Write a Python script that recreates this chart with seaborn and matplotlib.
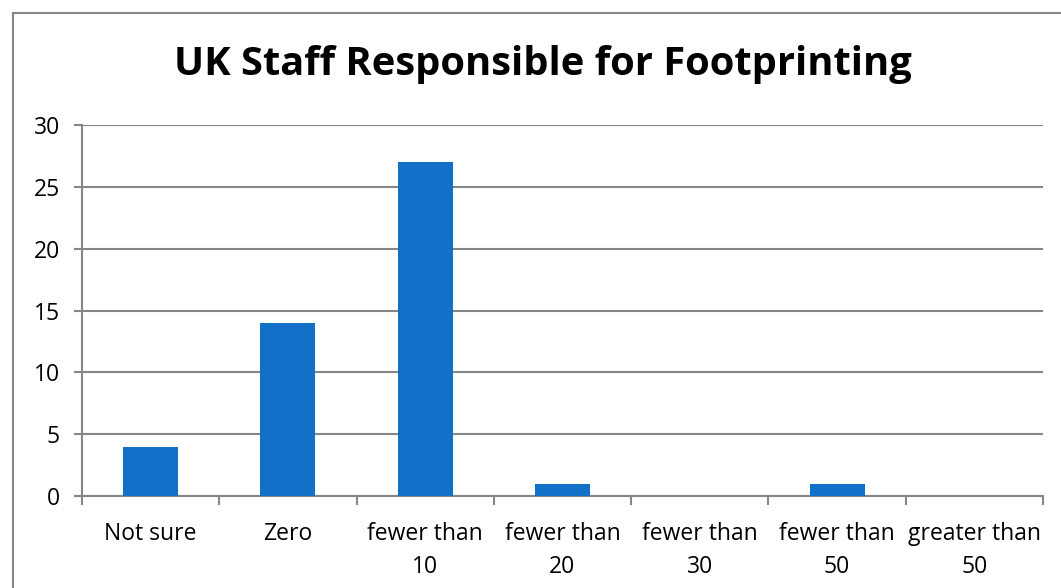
import pandas as pd
import matplotlib.pyplot as plt
from matplotlib.lines import Line2D
import seaborn as sns

categories = ['Not sure', 'Zero', 'fewer than\n10', 'fewer than\n20', 'fewer than\n30',
              'fewer than\n50', 'greater than\n50']
counts = [4, 14, 27, 1, 0, 1, 0]
y_ticks = [0, 5, 10, 15, 20, 25, 30]

df = pd.DataFrame({'category': categories, 'count': counts})

sns.set_style('white')
plt.rcParams['font.family'] = ['Open Sans', 'DejaVu Sans']
plt.rcParams['text.color'] = 'black'
plt.rcParams['xtick.color'] = 'black'
plt.rcParams['ytick.color'] = 'black'

W, H = 1061, 588
fig = plt.figure(figsize=(W / 100, H / 100), dpi=100)
ax = fig.add_axes([82 / W, 1 - 496 / H, (1043 - 82) / W, (496 - 125) / H])

grey = '#868686'
sns.barplot(data=df, x='category', y='count', color='#1270C8', width=0.4,
            saturation=1, linewidth=0, ax=ax, zorder=3)

ax.set_ylim(0, 30)
ax.set_xlim(-0.5, len(categories) - 0.5)
ax.set_yticks(y_ticks)
ax.set_yticklabels([str(t) for t in y_ticks], fontsize=16.5)
ax.yaxis.grid(True, color=grey, linewidth=1.5, zorder=0)
ax.set_axisbelow(True)

# category boundary ticks on x axis
ax.set_xticks([i + 0.5 for i in range(-1, len(categories))], minor=False)
ax.set_xticklabels([])
ax.set_xticks(range(len(categories)), minor=True)
ax.set_xticklabels(categories, minor=True, fontsize=16.5, linespacing=1.5)
ax.tick_params(axis='x', which='major', length=6.5, width=1.5, color=grey, direction='out', bottom=True)
ax.tick_params(axis='x', which='minor', length=0, pad=18.5)
ax.tick_params(axis='y', length=6, width=1.5, color=grey, direction='out', left=True, pad=10)

for s in ['top', 'right']:
    ax.spines[s].set_visible(False)
for s in ['left', 'bottom']:
    ax.spines[s].set_color(grey)
    ax.spines[s].set_linewidth(1.5)

ax.set_xlabel('')
ax.set_ylabel('')

fig.text(543 / W, 1 - 65 / H, 'UK Staff Responsible for Footprinting',
         ha='center', va='center', fontsize=28.7, fontweight='bold')

# outer chart border (left and top only visible)
fig.add_artist(Line2D([13 / W, 13 / W], [0, 1 - 13 / H], transform=fig.transFigure,
                      color=grey, linewidth=1.5))
fig.add_artist(Line2D([13 / W, 1], [1 - 13 / H, 1 - 13 / H], transform=fig.transFigure,
                      color=grey, linewidth=1.5))

fig.savefig('out.png', dpi=100)
